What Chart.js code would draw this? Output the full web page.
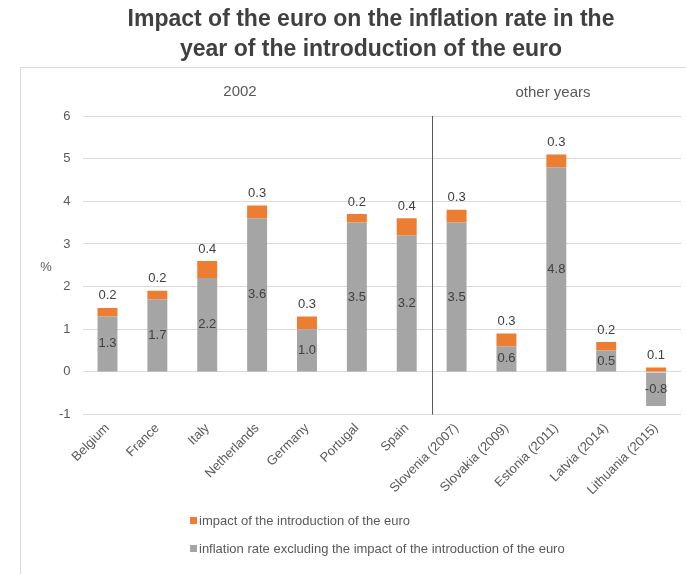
<!DOCTYPE html>
<html>
<head>
<meta charset="utf-8">
<script src="https://cdn.jsdelivr.net/npm/chart.js@4"></script>
<style>
    body { margin: 0; background: #fff; }
    #wrap { position: relative; width: 686px; height: 574px; }
    #frame { position: absolute; left: 20px; top: 67px; width: 680px; height: 520px; border-left: 1px solid #d9d9d9; border-top: 1px solid #d9d9d9; }
    canvas { position: absolute; left: 0; top: 0; }
</style>
</head>
<body>
<div id="wrap">
    <div id="frame"></div>
    <canvas id="chart" width="686" height="574"></canvas>
</div>
<script>
const countries = ['Belgium', 'France', 'Italy', 'Netherlands', 'Germany', 'Portugal', 'Spain',
    'Slovenia (2007)', 'Slovakia (2009)', 'Estonia (2011)', 'Latvia (2014)', 'Lithuania (2015)'];
const inflationExcl = [1.3, 1.7, 2.2, 3.6, 1.0, 3.5, 3.2, 3.5, 0.6, 4.8, 0.5, -0.8];
const euroImpact = [0.2, 0.2, 0.4, 0.3, 0.3, 0.2, 0.4, 0.3, 0.3, 0.3, 0.2, 0.1];
const yTicks = [-1, 0, 1, 2, 3, 4, 5, 6];

const fontFamily = "'Liberation Sans', Arial, sans-serif";
const textColor = '#595959';

// Titel, Gruppen, Trennlinie, Datenbeschriftung und Legende
const extrasPlugin = {
    id: 'extras',
    afterDraw(chart) {
        const ctx = chart.ctx;
        const x = chart.scales.x;
        const y = chart.scales.y;
        ctx.save();

        ctx.fillStyle = '#404040';
        ctx.font = 'bold 23px ' + fontFamily;
        ctx.textAlign = 'center';
        ctx.textBaseline = 'middle';
        ctx.fillText('Impact of the euro on the inflation rate in the', 371, 20);
        ctx.fillText('year of the introduction of the euro', 371, 50);

        // Trennlinie zwischen 2002 und anderen Jahren
        const divX = (x.getPixelForValue(6) + x.getPixelForValue(7)) / 2;
        ctx.strokeStyle = '#595959';
        ctx.lineWidth = 1;
        ctx.beginPath();
        ctx.moveTo(Math.round(divX) + 0.5, y.getPixelForValue(6));
        ctx.lineTo(Math.round(divX) + 0.5, y.getPixelForValue(-1));
        ctx.stroke();

        ctx.fillStyle = textColor;
        ctx.font = '15px ' + fontFamily;
        ctx.fillText('2002', 240, 92);
        ctx.fillText('other years', 553, 93);
        ctx.font = '13px ' + fontFamily;
        ctx.fillText('%', 46, 267);

        // Datenbeschriftung
        ctx.fillStyle = '#404040';
        ctx.font = '13px ' + fontFamily;
        const grayMeta = chart.getDatasetMeta(0);
        const orangeMeta = chart.getDatasetMeta(1);
        grayMeta.data.forEach((bar, i) => {
            ctx.fillText(inflationExcl[i].toFixed(1), bar.x, (bar.y + bar.base) / 2);
        });
        orangeMeta.data.forEach((bar, i) => {
            ctx.fillText(euroImpact[i].toFixed(1), bar.x, Math.min(bar.y, bar.base) - 12);
        });

        // Legende
        ctx.textAlign = 'left';
        ctx.font = '13px ' + fontFamily;
        const items = [
            { color: '#ED7D31', text: 'impact of the introduction of the euro', y: 521 },
            { color: '#A5A5A5', text: 'inflation rate excluding the impact of the introduction of the euro', y: 549 }
        ];
        items.forEach(item => {
            ctx.fillStyle = item.color;
            ctx.fillRect(190, item.y - 4, 7, 7);
            ctx.fillStyle = textColor;
            ctx.fillText(item.text, 199, item.y);
        });
        ctx.restore();
    }
};

new Chart(document.getElementById('chart').getContext('2d'), {
    type: 'bar',
    data: {
        labels: countries,
        datasets: [
            {
                label: 'inflation rate excluding the impact of the introduction of the euro',
                data: inflationExcl,
                backgroundColor: '#A5A5A5',
                barPercentage: 0.8,
                categoryPercentage: 0.5
            },
            {
                label: 'impact of the introduction of the euro',
                data: euroImpact,
                backgroundColor: '#ED7D31',
                barPercentage: 0.8,
                categoryPercentage: 0.5
            }
        ]
    },
    options: {
        responsive: false,
        animation: false,
        layout: {
            padding: { top: 116, left: 47, right: 5, bottom: 70 }
        },
        plugins: {
            legend: { display: false },
            title: { display: false },
            tooltip: { enabled: false }
        },
        scales: {
            x: {
                stacked: true,
                grid: { display: false, drawTicks: false },
                border: { display: false },
                ticks: {
                    color: textColor,
                    font: { family: fontFamily, size: 13 },
                    maxRotation: 45,
                    minRotation: 45,
                    padding: 6
                }
            },
            y: {
                stacked: true,
                min: -1,
                max: 6,
                afterBuildTicks: axis => {
                    axis.ticks = yTicks.map(v => ({ value: v }));
                },
                grid: { color: '#d9d9d9', drawTicks: false },
                border: { display: false },
                ticks: {
                    color: textColor,
                    font: { family: fontFamily, size: 13 },
                    padding: 12
                }
            }
        }
    },
    plugins: [extrasPlugin]
});
</script>
</body>
</html>
